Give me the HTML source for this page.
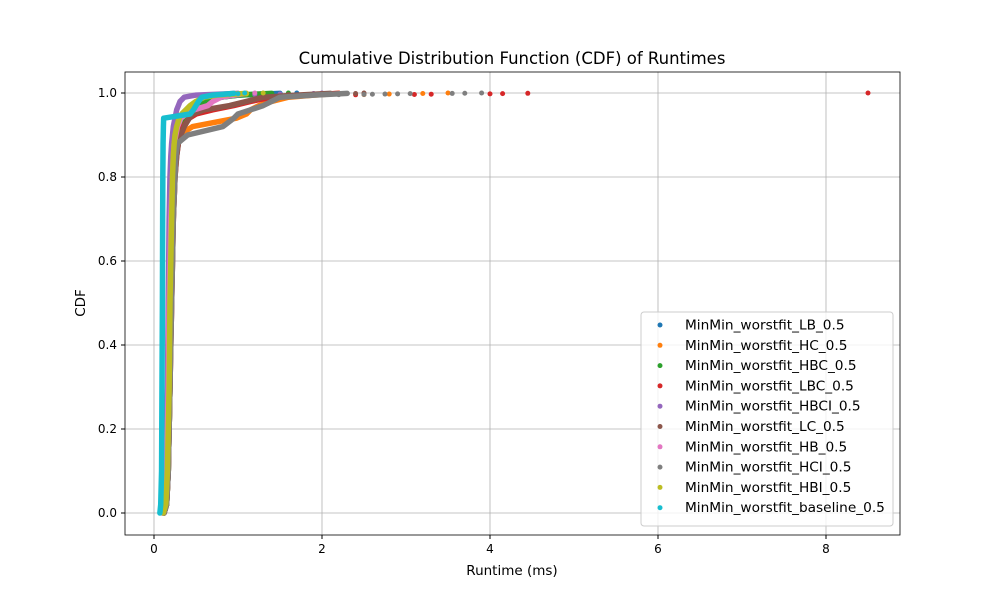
<!DOCTYPE html>
<html><head><meta charset="utf-8"><style>
body{margin:0;background:#fff;font-family:"Liberation Sans","DejaVu Sans",sans-serif}
svg text{font-family:"DejaVu Sans","Liberation Sans",sans-serif;fill:#000}
</style></head><body>
<svg id="chart" width="1000" height="600" xmlns="http://www.w3.org/2000/svg">
<rect width="1000" height="600" fill="#fff"/>
<text x="512" y="64" font-size="16.5" text-anchor="middle">Cumulative Distribution Function (CDF) of Runtimes</text>
<g id="grid"></g><g id="series"></g><g id="axes"></g>
<text x="512" y="575" font-size="13.5" text-anchor="middle">Runtime (ms)</text>
<text x="85" y="303" font-size="13.5" text-anchor="middle" transform="rotate(-90 85 303)">CDF</text>
<g id="legend"></g>
</svg>
<script>
const levels=[0,0.02,0.1,0.3,0.5,0.7,0.8,0.85,0.88,0.9,0.92,0.94,0.95,0.96,0.97,0.98,0.99,0.995,0.999,1.0];
const names=["MinMin_worstfit_LB_0.5","MinMin_worstfit_HC_0.5","MinMin_worstfit_HBC_0.5","MinMin_worstfit_LBC_0.5","MinMin_worstfit_HBCI_0.5","MinMin_worstfit_LC_0.5","MinMin_worstfit_HB_0.5","MinMin_worstfit_HCI_0.5","MinMin_worstfit_HBI_0.5","MinMin_worstfit_baseline_0.5"];
const colors=["#1f77b4","#ff7f0e","#2ca02c","#d62728","#9467bd","#8c564b","#e377c2","#7f7f7f","#bcbd22","#17becf"];
const sLB  =[0.12,0.15,0.17,0.19,0.2,0.22,0.24,0.25,0.27,0.29,0.31,0.35,0.38,0.42,0.5,0.62,0.8,1.0,1.5,1.7];
const sHC  =[0.12,0.15,0.17,0.19,0.2,0.22,0.24,0.25,0.27,0.3,0.46,0.98,1.1,1.15,1.25,1.4,1.6,1.9,2.2,3.5];
const sHBC =[0.12,0.15,0.17,0.19,0.2,0.22,0.24,0.25,0.27,0.29,0.31,0.35,0.38,0.42,0.5,0.62,0.8,1.0,1.4,1.6];
const sLBC =[0.12,0.15,0.17,0.19,0.21,0.23,0.25,0.27,0.29,0.32,0.35,0.42,0.5,0.7,0.95,1.15,1.4,1.8,2.2,8.5];
const sHBCI=[0.1,0.12,0.14,0.16,0.17,0.18,0.19,0.2,0.21,0.22,0.23,0.25,0.26,0.27,0.29,0.31,0.36,0.5,1.0,2.0];
const sLC  =[0.12,0.15,0.17,0.19,0.21,0.23,0.25,0.27,0.29,0.32,0.36,0.42,0.46,0.6,0.9,1.1,1.3,1.7,2.1,2.5];
const sHB  =[0.11,0.13,0.15,0.17,0.18,0.2,0.22,0.23,0.24,0.26,0.28,0.32,0.38,0.48,0.64,0.7,0.8,0.95,1.1,1.2];
const sHCI =[0.12,0.15,0.17,0.19,0.21,0.23,0.25,0.26,0.28,0.4,0.82,0.95,1.0,1.15,1.3,1.4,1.5,1.9,2.3,3.9];
const sHBI =[0.11,0.14,0.16,0.18,0.19,0.21,0.22,0.23,0.24,0.25,0.27,0.3,0.33,0.38,0.43,0.5,0.6,0.75,1.1,1.3];
const sBase=[0.07,0.08,0.09,0.095,0.1,0.103,0.105,0.107,0.108,0.11,0.112,0.115,0.43,0.47,0.5,0.53,0.57,0.7,0.95,1.08];
const allSeries=[sLB,sHC,sHBC,sLBC,sHBCI,sLC,sHB,sHCI,sHBI,sBase];
const tailLB=[1.3,1.5,1.7];
const tailHC=[2.5,2.8,3.2,3.5];
const tailHBC=[1.2,1.6];
const tailLBC=[2.4,3.1,3.3,4.0,4.15,4.45,8.5];
const tailHBCI=[1.2,1.5,1.9,2.0];
const tailLC=[1.6,2.0,2.4,2.5];
const tailHB=[1.0,1.2];
const tailHCI=[1.9,2.2,2.5,2.6,2.75,2.9,3.05,3.55,3.7,3.9];
const tailHBI=[1.1,1.3];
const tailBase=[0.9,1.0,1.08];
const tails=[tailLB,tailHC,tailHBC,tailLBC,tailHBCI,tailLC,tailHB,tailHCI,tailHBI,tailBase];
const xTicks=[0,2,4,6,8];
const yTicks=[0.0,0.2,0.4,0.6,0.8,1.0];
const X=v=>154+84*v, Y=v=>513-420*v;
const NS="http://www.w3.org/2000/svg";
function mk(t,a,p){const e=document.createElementNS(NS,t);for(const k in a)e.setAttribute(k,a[k]);p.appendChild(e);return e;}
const grid=document.getElementById('grid'),axes=document.getElementById('axes'),ser=document.getElementById('series'),leg=document.getElementById('legend');
const L=125,R=900,T=72,B=535;
xTicks.forEach(v=>{const l=mk('line',{x1:X(v),x2:X(v),y1:T,y2:B,stroke:'#b0b0b0','stroke-width':0.8},grid);


mk('line',{x1:X(v),x2:X(v),y1:B,y2:B+4,stroke:'#000'},axes);
const t=mk('text',{x:X(v),y:B+18,'font-size':12,'text-anchor':'middle'},axes);t.textContent=v;

});
yTicks.forEach(v=>{const l=mk('line',{x1:L,x2:R,y1:Y(v),y2:Y(v),stroke:'#b0b0b0','stroke-width':0.8},grid);


mk('line',{x1:L-4,x2:L,y1:Y(v),y2:Y(v),stroke:'#000'},axes);
const t=mk('text',{x:L-8,y:Y(v)+4,'font-size':12,'text-anchor':'end'},axes);t.textContent=v.toFixed(1);

});
const fr=mk('rect',{x:L,y:T,width:R-L,height:B-T,fill:'none',stroke:'#000','stroke-width':0.8},axes);


allSeries.forEach((s,i)=>{
 const g=mk('g',{},ser);
 
 
 const main=s.slice(0,levels.length-1);
 const pts=main.map((v,j)=>X(v)+','+Y(levels[j])).join(' ');
 mk('polyline',{points:pts,fill:'none',stroke:colors[i],'stroke-width':5.5,'stroke-linecap':'round','stroke-linejoin':'round'},g);
 tails[i].forEach((v,k)=>{const c=mk('circle',{cx:X(v),cy:Y(0.995+0.005*(k+1)/tails[i].length),r:2.5,fill:colors[i]},g);
 
 });
});
const lb=mk('rect',{x:641,y:312,width:252,height:214,rx:3,fill:'#fff','fill-opacity':0.8,stroke:'#ccc'},leg);


names.forEach((n,i)=>{const y=325+20.3*i;
 const g=mk('g',{},leg);
 
 
 mk('circle',{cx:660,cy:y,r:2.5,fill:colors[i]},g);
 const t=mk('text',{x:685,y:y+4.5,'font-size':13.7},g);t.textContent=n;});
</script>
</body></html>
